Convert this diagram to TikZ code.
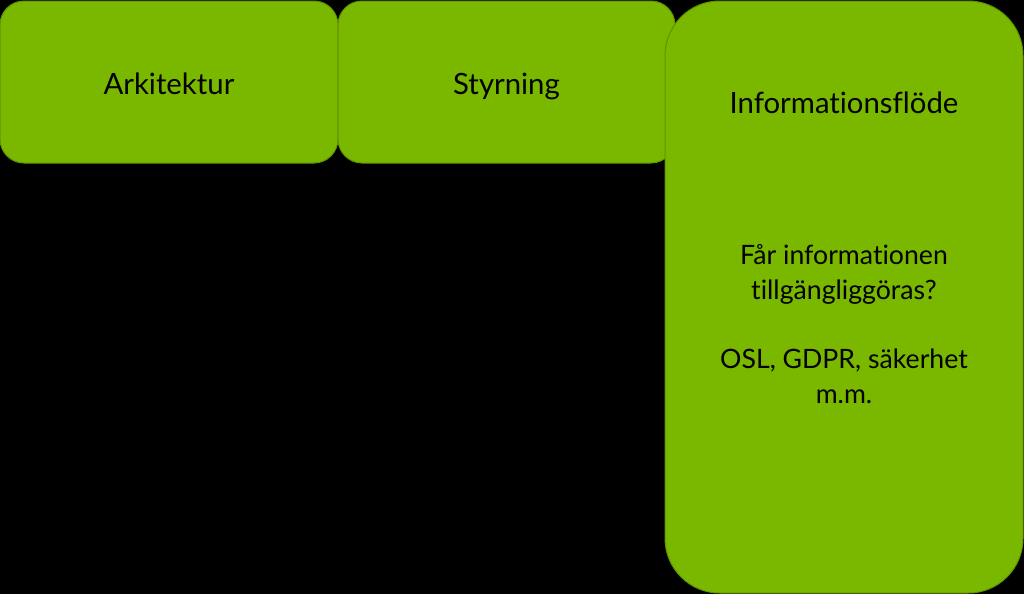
\documentclass[tikz,border=0pt]{standalone}
\usepackage{fontspec}
\setmainfont{Lato}[Ligatures=NoCommon]
\usepackage{xcolor}
\definecolor{areagreen}{RGB}{122,184,0}
\definecolor{areaedge}{RGB}{96,146,0}
\usetikzlibrary{positioning}

\begin{document}
\begin{tikzpicture}[x=0.75pt, y=-0.75pt,
    area/.style={draw=areaedge, fill=areagreen, line width=0.75pt, rounded corners=18pt, inner sep=0pt},
    areatxt/.style={font=\fontsize{20}{26}\selectfont, text=black, align=center},
    areatitle/.style={font=\fontsize{22}{26}\selectfont, text=black, align=center},
  ]
    % Bakgrund
    \fill[black] (0,0) rectangle (1024,594);
    \useasboundingbox (0,0) rectangle (1024,594);

    % Rutor i överkant
    \node[area, areatitle, text height=22pt, text depth=4pt, minimum width=253.5pt, minimum height=121.5pt] (arkitektur) at (169,82) {Arkitektur};
    \node[area, areatitle, text height=22pt, text depth=4pt, minimum width=252.75pt, minimum height=121.5pt] (styrning) at (506.5,82) {Styrning};

    % Hög ruta till höger
    \node[area, rounded corners=41pt, minimum width=268.5pt, minimum height=444pt] (info) at (844,297) {};
    \node[areatitle] (infotitle) at (844,103) {Informationsflöde};
    \node[areatxt] (infobody) at (844,324) {Får informationen\\tillgängliggöras?\\[26pt]OSL, GDPR, säkerhet\\m.m.};
\end{tikzpicture}
\end{document}
